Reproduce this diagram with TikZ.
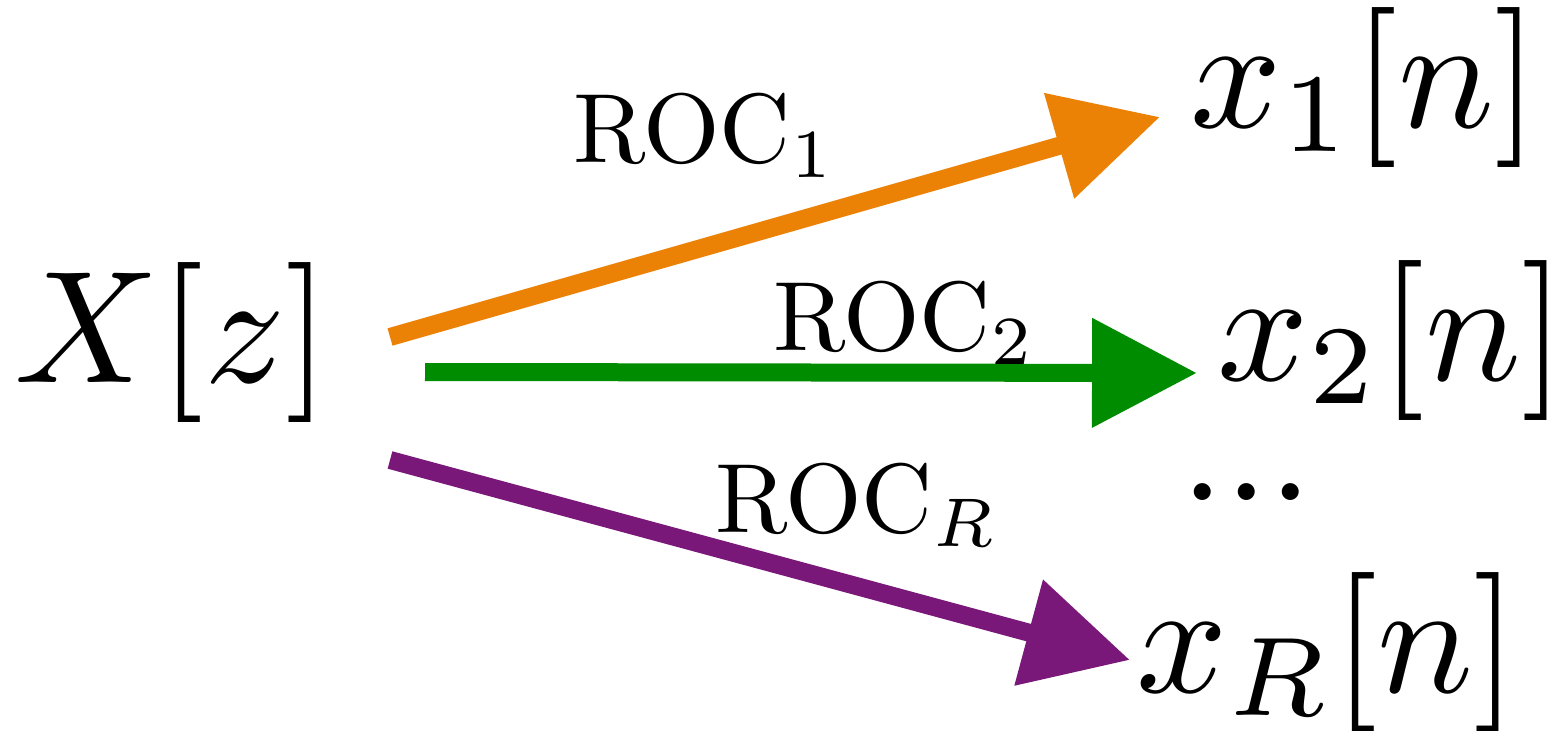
\RequirePackage{fix-cm}
\documentclass[tikz,border=0pt]{standalone}
\usetikzlibrary{arrows.meta}
\definecolor{rocorange}{RGB}{235,130,5}
\definecolor{rocgreen}{RGB}{0,140,0}
\definecolor{rocpurple}{RGB}{122,24,122}
\newcommand{\rocsub}[1]{\scalebox{2.8}{$\mathrm{ROC}_{#1}$}}
\newcommand{\bigsig}[1]{\scalebox{4.55}{$#1$}}
\tikzset{
  sig/.style={inner sep=0pt,anchor=base west,font=\fontsize{10}{12}\selectfont},
  roc/.style={inner sep=0pt,anchor=base west,font=\fontsize{10}{12}\selectfont},
  branch/.style={line width=0.18cm,-{Triangle[length=1.05cm,width=1.05cm]}}
}
\begin{document}
\begin{tikzpicture}[line join=round]
\useasboundingbox (0,0) rectangle (15.48,-7.31);
% --- transform and the three inverse transforms
\node[sig] (X) at (0.14,-3.82) {\bigsig{X[z]}};
\node[sig] (x1) at (11.90,-1.28) {\bigsig{x_1[n]}};
\node[sig] (x2) at (12.17,-3.80) {\bigsig{x_2[n]}};
\node[sig] (xR) at (11.36,-6.92) {\bigsig{x_R[n]}};
\node[sig,anchor=base] (dots) at (12.47,-5.00) {\bigsig{...}};
% --- arrows, one per region of convergence
\coordinate (s1) at (3.90,-3.37); \coordinate (t1) at (11.60,-1.17);
\coordinate (s2) at (4.25,-3.72); \coordinate (t2) at (11.97,-3.73);
\coordinate (sR) at (3.90,-4.60); \coordinate (tR) at (11.30,-6.60);
\draw[branch,rocorange] (s1) -- (t1);
\draw[branch,rocgreen] (s2) -- (t2);
\draw[branch,rocpurple] (sR) -- (tR);
\node[roc] (roc1) at (5.73,-1.63) {\rocsub{1}};
\node[roc] (roc2) at (7.73,-3.50) {\rocsub{2}};
\node[roc] (rocR) at (7.15,-5.32) {\rocsub{R}};
\end{tikzpicture}
\end{document}
